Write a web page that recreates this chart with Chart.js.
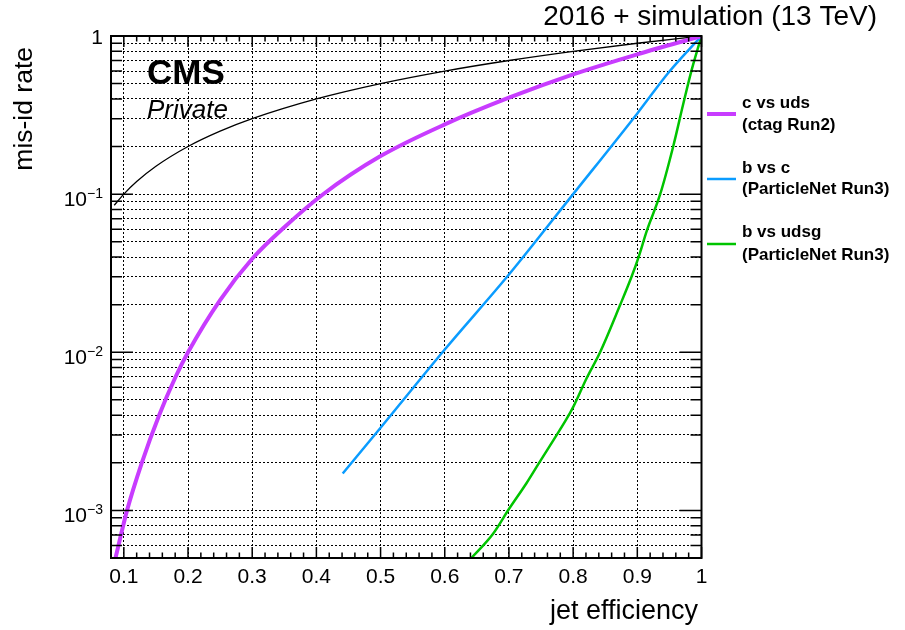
<!DOCTYPE html>
<html>
<head>
<meta charset="utf-8">
<script src="https://cdn.jsdelivr.net/npm/chart.js@4.4.1/dist/chart.umd.min.js"></script>
<style>
  html, body { margin: 0; padding: 0; background: #fff; }
  #wrap { width: 905px; height: 630px; }
</style>
</head>
<body>
<div id="wrap"><canvas id="roc" width="905" height="630"></canvas></div>
<script>
// c vs uds (ctag Run2)
var effC = [0.087, 0.105, 0.128, 0.155, 0.18, 0.2, 0.25, 0.3, 0.35, 0.41, 0.5, 0.6, 0.7, 0.8, 0.9, 1.0];
var misC = [5.0e-4, 1.0e-3, 2.0e-3, 4.0e-3, 6.9e-3, 1.0e-2, 0.0214, 0.039, 0.0617, 0.0995, 0.174, 0.276, 0.407, 0.572, 0.766, 1.0];

// b vs c (ParticleNet Run3)
var effB = [0.441, 0.5, 0.6, 0.7, 0.8, 0.9, 0.95, 1.0];
var misB = [1.71e-3, 3.33e-3, 0.0104, 0.031, 0.100, 0.324, 0.596, 1.0];

// b vs udsg (ParticleNet Run3)
var effL = [0.6415, 0.675, 0.700, 0.727, 0.746, 0.774, 0.790, 0.800, 0.821, 0.842, 0.873, 0.891, 0.902, 0.915, 0.9355, 0.956, 0.972, 0.985, 1.0];
var misL = [5.0e-4, 7.1e-4, 1.02e-3, 1.48e-3, 1.97e-3, 2.98e-3, 3.8e-3, 4.5e-3, 6.85e-3, 0.010, 0.0198, 0.030, 0.040, 0.059, 0.0995, 0.201, 0.378, 0.617, 1.0];

// black reference line
var effR = [0.085, 0.1, 0.12, 0.15, 0.2, 0.25, 0.3, 0.4, 0.5, 0.6, 0.7, 0.8, 0.9, 1.0];
var misR = [0.085, 0.1, 0.12, 0.15, 0.2, 0.25, 0.3, 0.4, 0.5, 0.6, 0.7, 0.8, 0.9, 1.0];

var legendTop = ["c vs uds", "b vs c", "b vs udsg"];
var legendBottom = ["(ctag Run2)", "(ParticleNet Run3)", "(ParticleNet Run3)"];

var xLabels = ["0.1", "0.2", "0.3", "0.4", "0.5", "0.6", "0.7", "0.8", "0.9", "1"];
var xLabelVals = [0.1, 0.2, 0.3, 0.4, 0.5, 0.6, 0.7, 0.8, 0.9, 1.0];
var yDecades = [1e-3, 1e-2, 1e-1, 1];
var yExponents = ["\u22123", "\u22122", "\u22121", ""];

const FONT = "'Liberation Sans', Arial, Helvetica, sans-serif";
const xMin = 0.08, xMax = 1.0, yMin = 5e-4, yMax = 1.0;

// all minor/major y positions (grid + ticks)
var yTickVals = [];
for (let e = -4; e <= 0; e++) {
  for (let m = 1; m <= 9; m++) {
    const v = +(m * Math.pow(10, e)).toPrecision(3);
    if (v >= yMin && v <= yMax) yTickVals.push(v);
  }
}
var xTickVals = [];
for (let k = 4; k <= 50; k++) xTickVals.push(k / 50);

function pts(xs, ys) {
  return xs.map((v, i) => ({ x: v, y: ys[i] }));
}

const rootStyle = {
  id: "rootStyle",
  afterDraw(chart) {
    const ctx = chart.ctx;
    const a = chart.chartArea;
    const x = chart.scales.x, y = chart.scales.y;
    ctx.save();

    // inward ticks
    ctx.strokeStyle = "#000";
    ctx.lineWidth = 1.5;
    ctx.beginPath();
    xTickVals.forEach(v => {
      const px = x.getPixelForValue(v);
      const len = (Math.round(v * 50) % 5 === 0) ? 11 : 5.5;
      ctx.moveTo(px, a.bottom); ctx.lineTo(px, a.bottom - len);
      ctx.moveTo(px, a.top); ctx.lineTo(px, a.top + len);
    });
    yTickVals.forEach(v => {
      const py = y.getPixelForValue(v);
      const len = yDecades.indexOf(v) >= 0 ? 22 : 11;
      ctx.moveTo(a.left, py); ctx.lineTo(a.left + len, py);
      ctx.moveTo(a.right, py); ctx.lineTo(a.right - len, py);
    });
    ctx.stroke();

    // frame
    ctx.lineWidth = 2;
    ctx.strokeRect(a.left, a.top, a.right - a.left, a.bottom - a.top);

    ctx.fillStyle = "#000";
    // x tick labels
    ctx.font = "21px " + FONT;
    ctx.textAlign = "center";
    ctx.textBaseline = "alphabetic";
    xLabelVals.forEach((v, i) => {
      ctx.fillText(xLabels[i], x.getPixelForValue(v), 583);
    });

    // y tick labels, 10^n style
    const labRight = 103;
    yDecades.forEach((v, i) => {
      const py = y.getPixelForValue(v);
      ctx.textAlign = "right";
      if (yExponents[i] === "") {
        ctx.font = "21px " + FONT;
        ctx.fillText("1", labRight, py + 7.5);
      } else {
        ctx.font = "14px " + FONT;
        const ew = ctx.measureText(yExponents[i]).width;
        ctx.fillText(yExponents[i], labRight, py + 4);
        ctx.font = "21px " + FONT;
        ctx.fillText("10", labRight - ew, py + 12);
      }
    });

    // axis titles
    ctx.font = "27px " + FONT;
    ctx.textAlign = "right";
    ctx.fillText("jet efficiency", 698, 619);
    ctx.save();
    ctx.translate(32, 47);
    ctx.rotate(-Math.PI / 2);
    ctx.font = "26.5px " + FONT;
    ctx.textAlign = "right";
    ctx.fillText("mis-id rate", 0, 0);
    ctx.restore();

    // header
    ctx.font = "28px " + FONT;
    ctx.textAlign = "right";
    ctx.fillText("2016 + simulation (13 TeV)", 877, 25);
    ctx.textAlign = "left";
    ctx.font = "bold 35px " + FONT;
    ctx.fillText("CMS", 147, 84);
    ctx.font = "italic 26px " + FONT;
    ctx.fillText("Private", 147, 118);

    // legend
    const lineY = [114, 179, 244];
    const base1 = [108, 173, 237];
    const base2 = [130, 194, 260];
    chart.data.datasets.slice(0, 3).forEach((ds, i) => {
      ctx.strokeStyle = ds.borderColor;
      ctx.lineWidth = ds.borderWidth;
      ctx.beginPath();
      ctx.moveTo(707, lineY[i]); ctx.lineTo(736, lineY[i]);
      ctx.stroke();
      ctx.fillStyle = "#000";
      ctx.font = "bold 17px " + FONT;
      ctx.fillText(legendTop[i], 742, base1[i]);
      ctx.fillText(legendBottom[i], 742, base2[i]);
    });

    ctx.restore();
  }
};

new Chart(document.getElementById("roc"), {
  type: "line",
  data: {
    datasets: [
      { label: "c vs uds", data: pts(effC, misC), borderColor: "#c83cff", borderWidth: 4 },
      { label: "b vs c", data: pts(effB, misB), borderColor: "#0a9cff", borderWidth: 2.5 },
      { label: "b vs udsg", data: pts(effL, misL), borderColor: "#00c400", borderWidth: 2.5 },
      { label: "reference", data: pts(effR, misR), borderColor: "#000000", borderWidth: 1.3 }
    ]
  },
  options: {
    responsive: false,
    animation: false,
    layout: { padding: { left: 111, right: 203.5, top: 36, bottom: 72 } },
    elements: {
      point: { radius: 0 },
      line: { cubicInterpolationMode: "monotone", fill: false }
    },
    plugins: { legend: { display: false }, tooltip: { enabled: false } },
    scales: {
      x: {
        type: "linear", min: xMin, max: xMax,
        afterBuildTicks: (s) => { s.ticks = xLabelVals.slice(0, 9).map(v => ({ value: v })); },
        ticks: { display: false },
        grid: { color: "#000", lineWidth: 1, drawTicks: false, borderDash: [2, 2] },
        border: { display: false, dash: [2, 2] }
      },
      y: {
        type: "logarithmic", min: yMin, max: yMax,
        afterBuildTicks: (s) => { s.ticks = yTickVals.filter(v => v > yMin && v < yMax).map(v => ({ value: v })); },
        ticks: { display: false },
        grid: { color: "#000", lineWidth: 1, drawTicks: false, borderDash: [2, 2] },
        border: { display: false, dash: [2, 2] }
      }
    }
  },
  plugins: [rootStyle]
});
</script>
</body>
</html>
